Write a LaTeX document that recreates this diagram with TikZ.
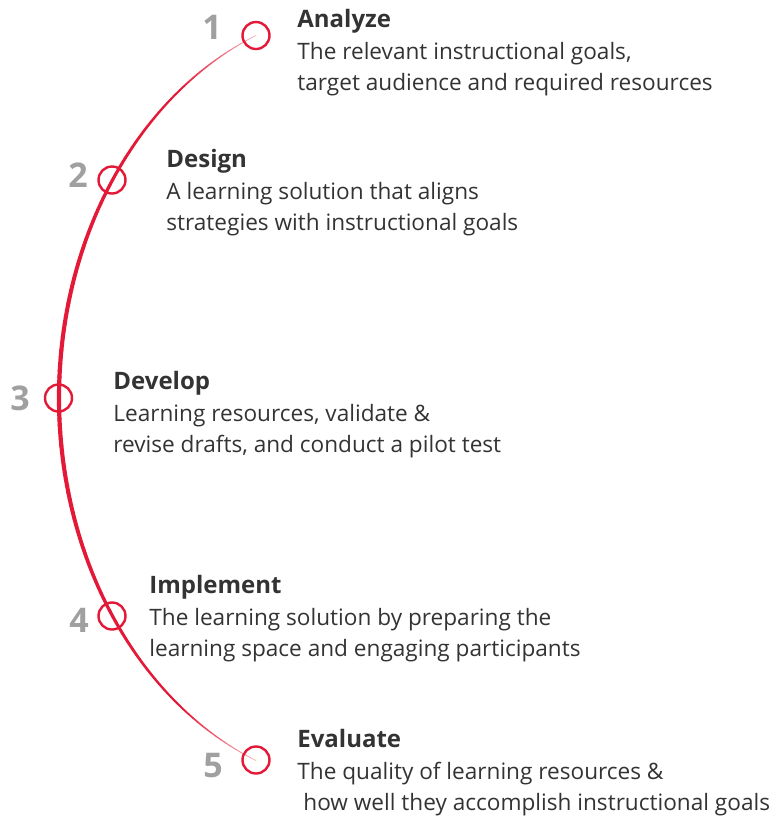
\documentclass[tikz,border=0pt]{standalone}
\usepackage{fontspec}
\setmainfont{Open Sans}
\usetikzlibrary{positioning}
\definecolor{addiered}{HTML}{E31937}
\definecolor{numgray}{HTML}{A0A0A0}
\definecolor{txtgray}{HTML}{333333}
\newcommand{\stagetitle}[1]{{\fontsize{12}{15.75}\selectfont\bfseries #1}}
\tikzstyle{stage}=[circle,draw=addiered,line width=1.2pt,minimum size=13.5pt,inner sep=0]
\tikzstyle{stepnum}=[text=numgray,font=\fontsize{17}{17}\selectfont\bfseries,inner sep=0]
\tikzstyle{stagetext}=[anchor=north west,align=left,inner sep=0,text=txtgray,font=\fontsize{11.3}{15.75}\selectfont]
\def\cx{374}
\def\cy{398}
\def\ra{315}
\def\rb{391}

\begin{document}
\begin{tikzpicture}[x=0.5pt,y=-0.5pt]
  \useasboundingbox (0,0) rectangle (782,816);

  % ARC
  \foreach \ang in {112,113,...,247}{
    \pgfmathsetmacro\arcd{cos((\ang+0.5-180)*1.3)}
    \pgfmathsetmacro\arcw{0.3+1.8*\arcd}
    \pgfmathsetmacro\arcp{min(100,25+200*\arcd)}
    \draw[addiered!\arcp!white,line width=\arcw pt,line cap=round]
      ({\cx+\ra*cos(\ang)},{\cy+\rb*sin(\ang)}) -- ({\cx+\ra*cos(\ang+1)},{\cy+\rb*sin(\ang+1)});
  }

  % STAGES
  \node[stage] (c1) at (256,35.5) {};
  \node[stage] (c2) at (112,180) {};
  \node[stage] (c3) at (58.5,398) {};
  \node[stage] (c4) at (112,616) {};
  \node[stage] (c5) at (256,760) {};

  % NUMBERS
  \node[stepnum] (n1) at (212,27) {1};
  \node[stepnum] (n2) at (78,175) {2};
  \node[stepnum] (n3) at (20,398) {3};
  \node[stepnum] (n4) at (79,620) {4};
  \node[stepnum] (n5) at (213,766) {5};

  % TEXTS
  \node[stagetext] (s1) at (297,9) {\stagetitle{Analyze}\\The relevant instructional goals,\\target audience and required resources};
  \node[stagetext] (s2) at (166,149) {\stagetitle{Design}\\A learning solution that aligns\\strategies with instructional goals};
  \node[stagetext] (s3) at (113,371) {\stagetitle{Develop}\\Learning resources, validate \&\\revise drafts, and conduct a pilot test};
  \node[stagetext] (s4) at (149,575) {\stagetitle{Implement}\\The learning solution by preparing the\\learning space and engaging participants};
  \node[stagetext] (s5) at (297,729) {\stagetitle{Evaluate}\\The quality of learning resources \&\\\hspace{3pt}how well they accomplish instructional goals};

\end{tikzpicture}
\end{document}
